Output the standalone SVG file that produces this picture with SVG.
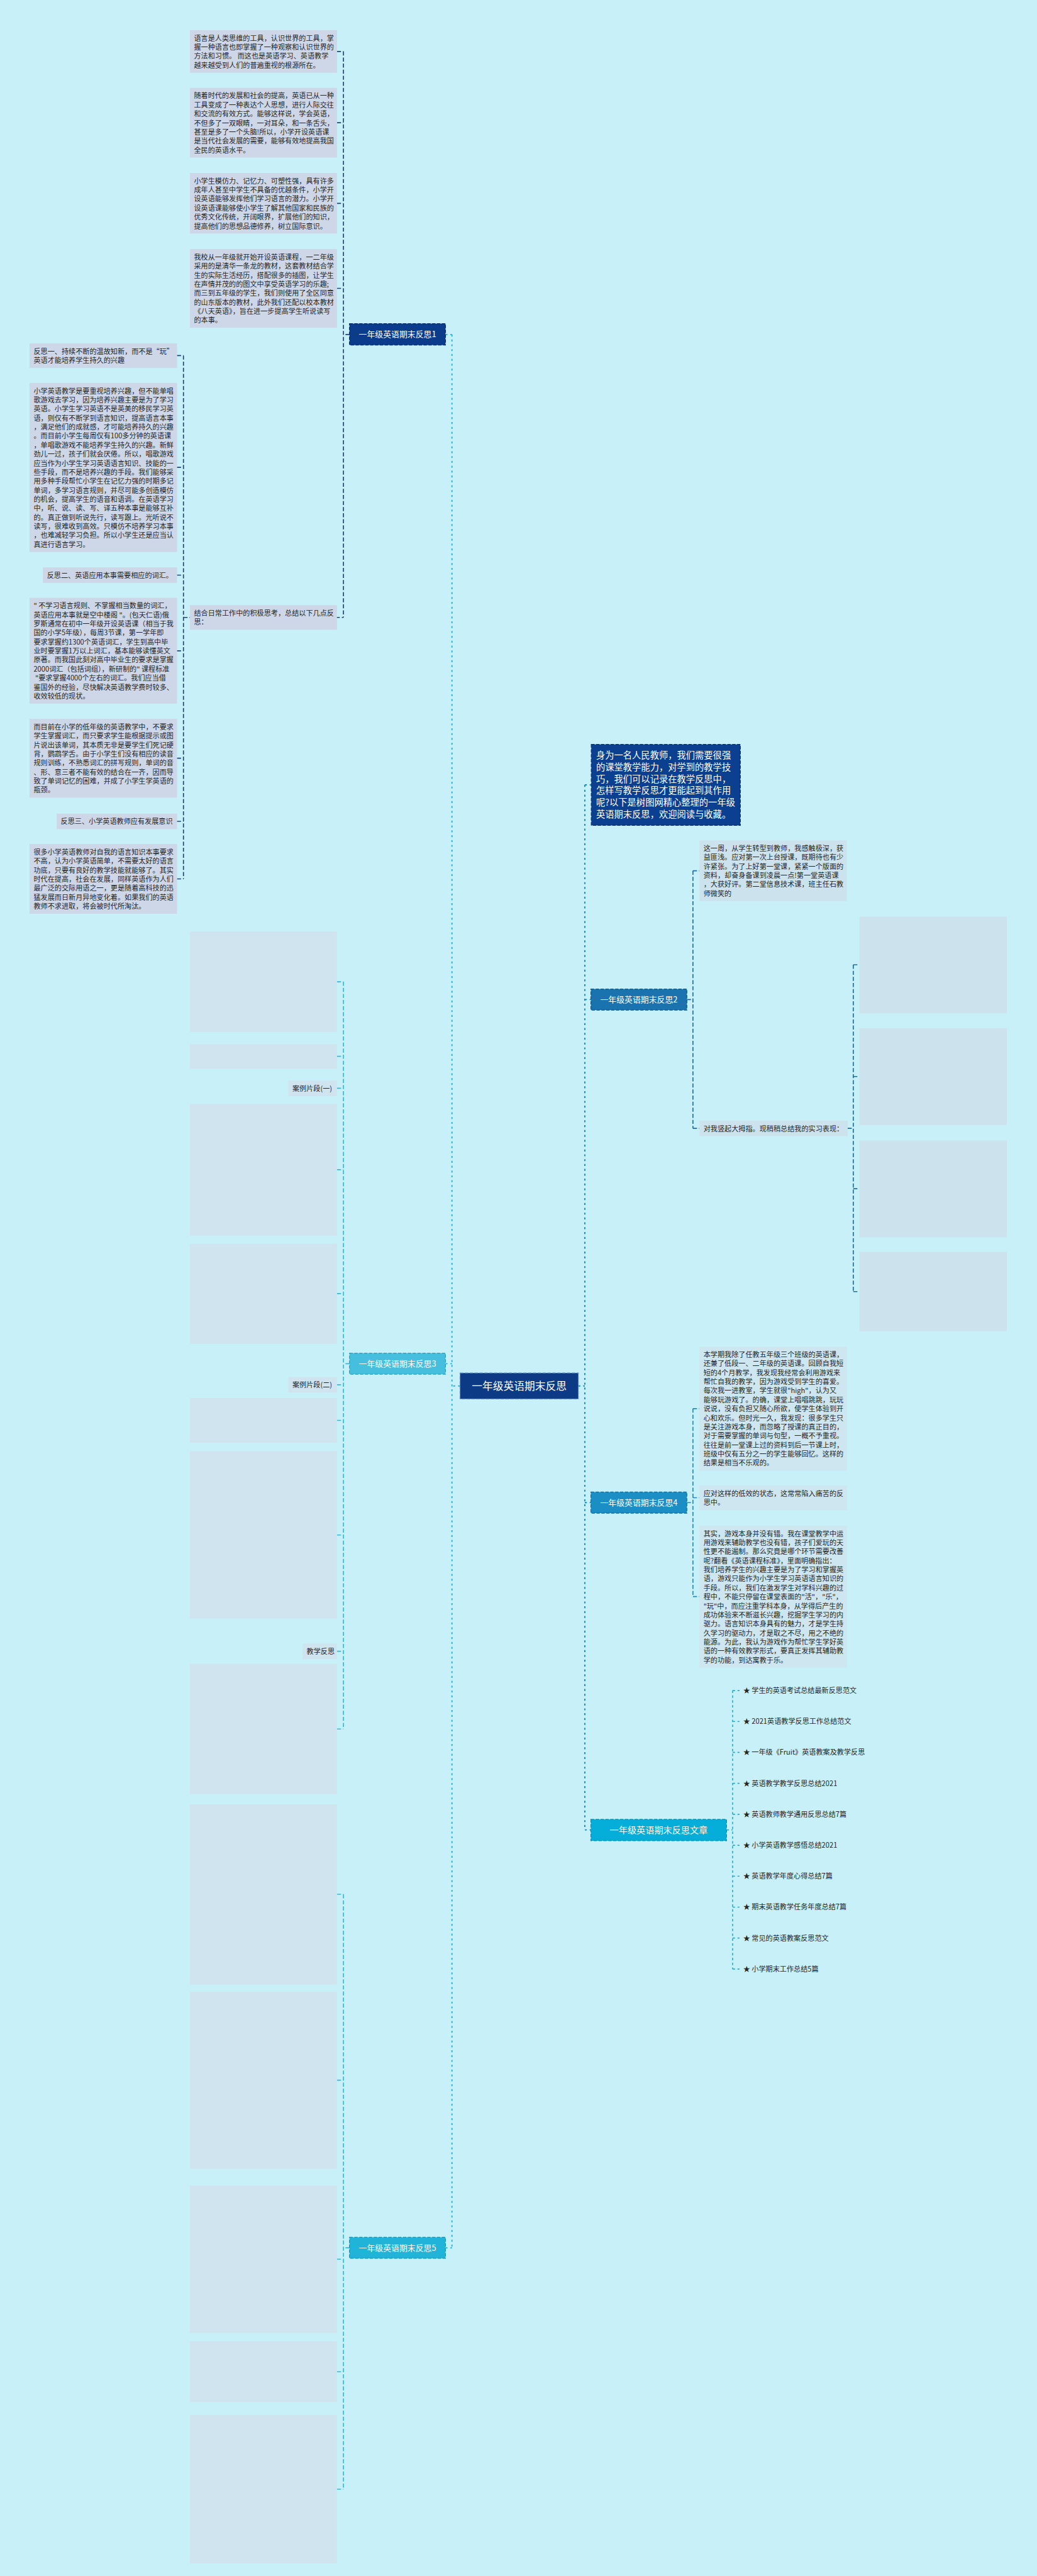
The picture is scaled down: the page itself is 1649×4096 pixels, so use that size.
<svg xmlns="http://www.w3.org/2000/svg" width="1649" height="4096" viewBox="0 0 1649 4096">
<defs>
<style>
.t{font-family:"Noto Sans CJK SC","Microsoft YaHei",sans-serif;font-size:17.3px;fill:#262626}
.tw{font-family:"Noto Sans CJK SC","Microsoft YaHei",sans-serif;fill:#ffffff}
.b1{fill:#CDD7E8}
.b2{fill:#CCE3EE}
.b3{fill:#CDE6F0}
.b5{fill:#CFE4EE}
.c1{fill:none;stroke:#22437E;stroke-width:2.6;stroke-dasharray:10 5}
.c2{fill:none;stroke:#1E6EA3;stroke-width:2.6;stroke-dasharray:10 5}
.c3{fill:none;stroke:#39B8D6;stroke-width:2.6;stroke-dasharray:10 5}
.c4{fill:none;stroke:#1B8DBF;stroke-width:2.6;stroke-dasharray:10 5}
.c5{fill:none;stroke:#2AAFCF;stroke-width:2.6;stroke-dasharray:6 6}
.tl{fill:none;stroke:#2CB5D4;stroke-width:3;stroke-dasharray:5 7}
.tr{fill:none;stroke:#168CBE;stroke-width:3;stroke-dasharray:5 7}
</style>
</defs>
<rect x="0" y="0" width="1649" height="4096" fill="#C8F0F8"/>
<g transform="scale(0.644)">
<g id="connectors">
<path class="tl" d="M1116 826 V5550 M1100 826 H1116 M1100 3367 H1116 M1100 5550 H1116 M1136 3422 H1116"/>
<path class="tr" d="M1444 1938 V4518 M1428 3422 H1444 M1444 1938 H1460 M1444 2468 H1459 M1444 3710 H1459 M1444 4518 H1459"/>
<path class="c1" d="M848 127 V1524.5 M832 127 H848 M832 303 H848 M832 502 H848 M832 712 H848 M863 826 H848 M469 1524.5 H848"/>
<path class="c1" d="M453 878 V2170 M437 878 H453 M437 1154 H453 M437 1420 H453 M437 1607 H453 M437 1872 H453 M437 2028 H453 M437 2170 H453 M453 1524.5 H469"/>
<path class="c3" d="M848 2424 V4269 M863 3367 H848 M832 2424 H848 M832 2608 H848 M832 2687 H848 M832 2888 H848 M832 3194 H848 M832 3419 H848 M832 3507 H848 M832 3790 H848 M832 4077 H848 M832 4269 H848"/>
<path class="c3" d="M848 4677 V6146 M863 5550 H848 M832 4677 H848 M832 5136 H848 M832 5578 H848 M832 5856 H848 M832 6146 H848"/>
<path class="c2" d="M1711 2150 V2786 M1696 2468 H1711 M1711 2150 H1727 M1711 2786 H1727"/>
<path class="c2" d="M2107 2382 V3189 M2093 2786 H2107 M2107 2382 H2122 M2107 2658 H2122 M2107 2935 H2122 M2107 3189 H2122"/>
<path class="c4" d="M1711 3478 V3942 M1696 3710 H1711 M1711 3478 H1727 M1711 3698 H1727 M1711 3942 H1727"/>
<path class="c5" d="M1809 4174 V4862 M1794 4518 H1809 M1809 4174 H1826 M1809 4250.4 H1826 M1809 4326.8 H1826 M1809 4403.2 H1826 M1809 4479.6 H1826 M1809 4556 H1826 M1809 4632.4 H1826 M1809 4708.8 H1826 M1809 4785.2 H1826 M1809 4861.6 H1826"/>
</g>

<g id="center">
<rect x="1136" y="3390" width="292" height="64" fill="#0C3A85" stroke="#5B86C8" stroke-width="2" stroke-dasharray="8 4"/>
<text class="tw" x="1282" y="3431" font-size="26" text-anchor="middle">一年级英语期末反思</text>
</g>

<g id="n1">
<rect x="863" y="799" width="237" height="53" fill="#0B3C8C" stroke="#062a66" stroke-width="2" stroke-dasharray="8 4"/>
<text class="tw" x="981.5" y="833" font-size="20" text-anchor="middle">一年级英语期末反思1</text>
</g>
<g id="n1a"><rect class="b1" x="469" y="74.5" width="363" height="105.2"/>
<text class="t"><tspan x="479" y="100.5">语言是人类思维的工具，认识世界的工具，掌</tspan><tspan x="479" y="122.8">握一种语言也即掌握了一种观察和认识世界的</tspan><tspan x="479" y="145.1">方法和习惯。 而这也是英语学习、英语教学</tspan><tspan x="479" y="167.4">越来越受到人们的普遍重视的根源所在。</tspan></text></g>
<g id="n1b"><rect class="b1" x="469" y="217" width="363" height="172.1"/>
<text class="t"><tspan x="479" y="243">随着时代的发展和社会的提高，英语已从一种</tspan><tspan x="479" y="265.3">工具变成了一种表达个人思想，进行人际交往</tspan><tspan x="479" y="287.6">和交流的有效方式。能够这样说，学会英语，</tspan><tspan x="479" y="309.9">不但多了一双眼睛，一对耳朵，和一条舌头，</tspan><tspan x="479" y="332.2">甚至是多了一个头脑!所以，小学开设英语课</tspan><tspan x="479" y="354.5">是当代社会发展的需要，能够有效地提高我国</tspan><tspan x="479" y="376.8">全民的英语水平。</tspan></text></g>
<g id="n1c"><rect class="b1" x="469" y="427" width="363" height="149.8"/>
<text class="t"><tspan x="479" y="453">小学生模仿力、记忆力、可塑性强，具有许多</tspan><tspan x="479" y="475.3">成年人甚至中学生不具备的优越条件，小学开</tspan><tspan x="479" y="497.6">设英语能够发挥他们学习语言的潜力。小学开</tspan><tspan x="479" y="519.9">设英语课能够使小学生了解其他国家和民族的</tspan><tspan x="479" y="542.2">优秀文化传统，开阔眼界，扩展他们的知识，</tspan><tspan x="479" y="564.5">提高他们的思想品德修养，树立国际意识。</tspan></text></g>
<g id="n1d"><rect class="b1" x="469" y="615" width="363" height="194.4"/>
<text class="t"><tspan x="479" y="641">我校从一年级就开始开设英语课程，一二年级</tspan><tspan x="479" y="663.3">采用的是清华一条龙的教材，这套教材结合学</tspan><tspan x="479" y="685.6">生的实际生活经历，搭配很多的插图，让学生</tspan><tspan x="479" y="707.9">在声情并茂的的图文中享受英语学习的乐趣;</tspan><tspan x="479" y="730.2">而三到五年级的学生，我们则使用了全区同意</tspan><tspan x="479" y="752.5">的山东版本的教材，此外我们还配以校本教材</tspan><tspan x="479" y="774.8">《八天英语》，旨在进一步提高学生听说读写</tspan><tspan x="479" y="797.1">的本事。</tspan></text></g>
<g id="n1e"><rect class="b1" x="469" y="1494.2" width="363" height="60.6"/>
<text class="t"><tspan x="479" y="1520.2">结合日常工作中的积极思考，总结以下几点反</tspan><tspan x="479" y="1542.5">思：</tspan></text></g>

<g id="f1"><rect class="b1" x="73" y="847.7" width="364" height="60.6"/>
<text class="t"><tspan x="83" y="873.7">反思一、持续不断的温故知新，而不是“玩”</tspan><tspan x="83" y="896">英语才能培养学生持久的兴趣</tspan></text></g>
<g id="f2"><rect class="b1" x="73" y="945.5" width="364" height="417.4"/>
<text class="t"><tspan x="83" y="971.5">小学英语教学是要重视培养兴趣，但不能单唱</tspan><tspan x="83" y="993.8">歌游戏去学习，因为培养兴趣主要是为了学习</tspan><tspan x="83" y="1016.1">英语。小学生学习英语不是英美的移民学习英</tspan><tspan x="83" y="1038.4">语，则仅有不断学到语言知识，提高语言本事</tspan><tspan x="83" y="1060.7">，满足他们的成就感，才可能培养持久的兴趣</tspan><tspan x="83" y="1083">。而目前小学生每周仅有100多分钟的英语课</tspan><tspan x="83" y="1105.3">，单唱歌游戏不能培养学生持久的兴趣。新鲜</tspan><tspan x="83" y="1127.6">劲儿一过，孩子们就会厌倦。所以，唱歌游戏</tspan><tspan x="83" y="1149.9">应当作为小学生学习英语语言知识、技能的一</tspan><tspan x="83" y="1172.2">些手段，而不是培养兴趣的手段。我们能够采</tspan><tspan x="83" y="1194.5">用多种手段帮忙小学生在记忆力强的时期多记</tspan><tspan x="83" y="1216.8">单词，多学习语言规则，并尽可能多创造模仿</tspan><tspan x="83" y="1239.1">的机会，提高学生的语音和语调。在英语学习</tspan><tspan x="83" y="1261.4">中，听、说、读、写、译五种本事是能够互补</tspan><tspan x="83" y="1283.7">的。真正做到听说先行，读写跟上。光听说不</tspan><tspan x="83" y="1306">读写，很难收到高效。只模仿不培养学习本事</tspan><tspan x="83" y="1328.3">，也难减轻学习负担。所以小学生还是应当认</tspan><tspan x="83" y="1350.6">真进行语言学习。</tspan></text></g>
<g id="f3"><rect class="b1" x="106" y="1400.9" width="331" height="38.3"/>
<text class="t"><tspan x="116" y="1426.9">反思二、英语应用本事需要相应的词汇。</tspan></text></g>
<g id="f4"><rect class="b1" x="73" y="1476" width="364" height="261.3"/>
<text class="t"><tspan x="83" y="1502">" 不学习语言规则、不掌握相当数量的词汇，</tspan><tspan x="83" y="1524.3">英语应用本事就是空中楼阁 "。(包天仁语)俄</tspan><tspan x="83" y="1546.6">罗斯通常在初中一年级开设英语课（相当于我</tspan><tspan x="83" y="1568.9">国的小学5年级），每周3节课，第一学年即</tspan><tspan x="83" y="1591.2">要求掌握约1300个英语词汇，学生到高中毕</tspan><tspan x="83" y="1613.5">业时要掌握1万以上词汇，基本能够读懂英文</tspan><tspan x="83" y="1635.8">原著。而我国此刻对高中毕业生的要求是掌握</tspan><tspan x="83" y="1658.1">2000词汇（包括词组），新研制的" 课程标准</tspan><tspan x="83" y="1680.4"> "要求掌握4000个左右的词汇。我们应当借</tspan><tspan x="83" y="1702.7">鉴国外的经验，尽快解决英语教学费时较多、</tspan><tspan x="83" y="1725">收效较低的现状。</tspan></text></g>
<g id="f5"><rect class="b1" x="73" y="1775" width="364" height="194.4"/>
<text class="t"><tspan x="83" y="1801">而目前在小学的低年级的英语教学中，不要求</tspan><tspan x="83" y="1823.3">学生掌握词汇，而只要求学生能根据提示或图</tspan><tspan x="83" y="1845.6">片说出该单词，其本质无非是要学生们死记硬</tspan><tspan x="83" y="1867.9">背，鹦鹉学舌。由于小学生们没有相应的读音</tspan><tspan x="83" y="1890.2">规则训练，不熟悉词汇的拼写规则，单词的音</tspan><tspan x="83" y="1912.5">、形、意三者不能有效的结合在一齐，因而导</tspan><tspan x="83" y="1934.8">致了单词记忆的困难，并成了小学生学英语的</tspan><tspan x="83" y="1957.1">瓶颈。</tspan></text></g>
<g id="f6"><rect class="b1" x="140" y="2008.9" width="297" height="38.3"/>
<text class="t"><tspan x="150" y="2034.9">反思三、小学英语教师应有发展意识</tspan></text></g>
<g id="f7"><rect class="b1" x="73" y="2084" width="364" height="172.1"/>
<text class="t"><tspan x="83" y="2110">很多小学英语教师对自我的语言知识本事要求</tspan><tspan x="83" y="2132.3">不高，认为小学英语简单，不需要太好的语言</tspan><tspan x="83" y="2154.6">功底，只要有良好的教学技能就能够了。其实</tspan><tspan x="83" y="2176.9">时代在提高，社会在发展，同样英语作为人们</tspan><tspan x="83" y="2199.2">最广泛的交际用语之一，更是随着高科技的迅</tspan><tspan x="83" y="2221.5">猛发展而日新月异地变化着。如果我们的英语</tspan><tspan x="83" y="2243.8">教师不求进取，将会被时代所淘汰。</tspan></text></g>

<g id="intro">
<rect x="1460" y="1838" width="368" height="200" fill="#0B3F8F" stroke="#0a2f6e" stroke-width="2" stroke-dasharray="8 4"/>
<text class="tw" font-size="22.2"><tspan x="1472" y="1873">身为一名人民教师，我们需要很强</tspan><tspan x="1472" y="1902">的课堂教学能力，对学到的教学技</tspan><tspan x="1472" y="1931">巧，我们可以记录在教学反思中，</tspan><tspan x="1472" y="1960">怎样写教学反思才更能起到其作用</tspan><tspan x="1472" y="1989">呢?以下是树图网精心整理的一年级</tspan><tspan x="1472" y="2018">英语期末反思，欢迎阅读与收藏。</tspan></text>
</g>

<g id="n2">
<rect x="1459" y="2442" width="237" height="52" fill="#1A73AE" stroke="#0f5a8c" stroke-width="2" stroke-dasharray="8 4"/>
<text class="tw" x="1577.5" y="2475" font-size="20" text-anchor="middle">一年级英语期末反思2</text>
</g>
<g id="n2a"><rect class="b2" x="1727" y="2075" width="364" height="149.8"/>
<text class="t"><tspan x="1737" y="2101">这一周，从学生转型到教师，我感触极深，获</tspan><tspan x="1737" y="2123.3">益匪浅。应对第一次上台授课，既期待也有少</tspan><tspan x="1737" y="2145.6">许紧张。为了上好第一堂课，紧紧一个版面的</tspan><tspan x="1737" y="2167.9">资料，却奋身备课到凌晨一点!第一堂英语课</tspan><tspan x="1737" y="2190.2">，大获好评。第二堂信息技术课，班主任石教</tspan><tspan x="1737" y="2212.5">师微笑的</tspan></text></g>
<g id="n2b"><rect class="b2" x="1727" y="2766.9" width="366" height="38.3"/>
<text class="t"><tspan x="1737" y="2792.9">对我竖起大拇指。现稍稍总结我的实习表现：</tspan></text></g>
<g id="n2c"><rect class="b2" x="2122" y="2263" width="364" height="239"/></g>
<g id="n2d"><rect class="b2" x="2122" y="2538" width="364" height="240"/></g>
<g id="n2e"><rect class="b2" x="2122" y="2816" width="364" height="239"/></g>
<g id="n2f"><rect class="b2" x="2122" y="3091" width="364" height="196"/></g>

<g id="n3">
<rect x="863" y="3341" width="237" height="52" fill="#45BFDD" stroke="#2aa3c2" stroke-width="2" stroke-dasharray="8 4"/>
<text class="tw" x="981.5" y="3374" font-size="20" text-anchor="middle">一年级英语期末反思3</text>
</g>
<g id="n3a"><rect class="b5" x="469" y="2300" width="363" height="248"/></g>
<g id="n3b"><rect class="b5" x="469" y="2578" width="363" height="61"/></g>
<g id="n3c"><rect class="b5" x="712" y="2668" width="120" height="38.3"/><text class="t" x="722" y="2694">案例片段(一)</text></g>
<g id="n3d"><rect class="b5" x="469" y="2726" width="363" height="325"/></g>
<g id="n3e"><rect class="b5" x="469" y="3071" width="363" height="247"/></g>
<g id="n3f"><rect class="b5" x="712" y="3400" width="120" height="38.3"/><text class="t" x="722" y="3426">案例片段(二)</text></g>
<g id="n3g"><rect class="b5" x="469" y="3452" width="363" height="110"/></g>
<g id="n3h"><rect class="b5" x="469" y="3583" width="363" height="413"/></g>
<g id="n3i"><rect class="b5" x="747" y="4058" width="85" height="38.3"/><text class="t" x="757" y="4084">教学反思</text></g>
<g id="n3j"><rect class="b5" x="469" y="4108" width="363" height="322"/></g>

<g id="n4">
<rect x="1459" y="3684" width="237" height="52" fill="#1B8EC6" stroke="#1274a6" stroke-width="2" stroke-dasharray="8 4"/>
<text class="tw" x="1577.5" y="3717" font-size="20" text-anchor="middle">一年级英语期末反思4</text>
</g>
<g id="n4a"><rect class="b3" x="1727" y="3325" width="364" height="305.9"/>
<text class="t"><tspan x="1737" y="3351">本学期我除了任教五年级三个班级的英语课，</tspan><tspan x="1737" y="3373.3">还兼了低段一、二年级的英语课。回顾自我短</tspan><tspan x="1737" y="3395.6">短的4个月教学，我发现我经常会利用游戏来</tspan><tspan x="1737" y="3417.9">帮忙自我的教学，因为游戏受到学生的喜爱。</tspan><tspan x="1737" y="3440.2">每次我一进教室，学生就很"high"，认为又</tspan><tspan x="1737" y="3462.5">能够玩游戏了。的确，课堂上唱唱跳跳，玩玩</tspan><tspan x="1737" y="3484.8">说说，没有负担又随心所欲，使学生体验到开</tspan><tspan x="1737" y="3507.1">心和欢乐。但时光一久，我发现：很多学生只</tspan><tspan x="1737" y="3529.4">是关注游戏本身，而忽略了授课的真正目的，</tspan><tspan x="1737" y="3551.7">对于需要掌握的单词与句型，一概不予重视。</tspan><tspan x="1737" y="3574">往往是前一堂课上过的资料到后一节课上时，</tspan><tspan x="1737" y="3596.3">班级中仅有五分之一的学生能够回忆。这样的</tspan><tspan x="1737" y="3618.6">结果是相当不乐观的。</tspan></text></g>
<g id="n4b"><rect class="b3" x="1727" y="3668" width="364" height="60.6"/>
<text class="t"><tspan x="1737" y="3694">应对这样的低效的状态，这常常陷入痛苦的反</tspan><tspan x="1737" y="3716.3">思中。</tspan></text></g>
<g id="n4c"><rect class="b3" x="1727" y="3767" width="364" height="350.5"/>
<text class="t"><tspan x="1737" y="3793">其实，游戏本身并没有错。我在课堂教学中运</tspan><tspan x="1737" y="3815.3">用游戏来辅助教学也没有错，孩子们爱玩的天</tspan><tspan x="1737" y="3837.6">性更不能遏制。那么究竟是哪个环节需要改善</tspan><tspan x="1737" y="3859.9">呢?翻看《英语课程标准》，里面明确指出：</tspan><tspan x="1737" y="3882.2">我们培养学生的兴趣主要是为了学习和掌握英</tspan><tspan x="1737" y="3904.5">语，游戏只能作为小学生学习英语语言知识的</tspan><tspan x="1737" y="3926.8">手段。所以，我们在激发学生对学科兴趣的过</tspan><tspan x="1737" y="3949.1">程中，不能只停留在课堂表面的"活"，"乐"，</tspan><tspan x="1737" y="3971.4">"玩"中，而应注重学科本身，从学得后产生的</tspan><tspan x="1737" y="3993.7">成功体验来不断滋长兴趣，挖掘学生学习的内</tspan><tspan x="1737" y="4016">驱力。语言知识本身具有的魅力，才是学生持</tspan><tspan x="1737" y="4038.3">久学习的驱动力，才是取之不尽，用之不绝的</tspan><tspan x="1737" y="4060.6">能源。为此，我认为游戏作为帮忙学生学好英</tspan><tspan x="1737" y="4082.9">语的一种有效教学形式，要真正发挥其辅助教</tspan><tspan x="1737" y="4105.2">学的功能，到达寓教于乐。</tspan></text></g>

<g id="n6">
<rect x="1459" y="4492" width="335" height="53" fill="#05AED9" stroke="#0393b8" stroke-width="2" stroke-dasharray="8 4"/>
<text class="tw" x="1626.5" y="4526" font-size="22" text-anchor="middle">一年级英语期末反思文章</text>
</g>
<g id="links" class="t">
<text x="1835" y="4180">★ 学生的英语考试总结最新反思范文</text>
<text x="1835" y="4256.4">★ 2021英语教学反思工作总结范文</text>
<text x="1835" y="4332.8">★ 一年级《Fruit》英语教案及教学反思</text>
<text x="1835" y="4409.2">★ 英语教学教学反思总结2021</text>
<text x="1835" y="4485.6">★ 英语教师教学通用反思总结7篇</text>
<text x="1835" y="4562">★ 小学英语教学感悟总结2021</text>
<text x="1835" y="4638.4">★ 英语教学年度心得总结7篇</text>
<text x="1835" y="4714.8">★ 期末英语教学任务年度总结7篇</text>
<text x="1835" y="4791.2">★ 常见的英语教案反思范文</text>
<text x="1835" y="4867.6">★ 小学期末工作总结5篇</text>
</g>

<g id="n5">
<rect x="863" y="5524" width="237" height="52" fill="#22B4D8" stroke="#1596b8" stroke-width="2" stroke-dasharray="8 4"/>
<text class="tw" x="981.5" y="5557" font-size="20" text-anchor="middle">一年级英语期末反思5</text>
</g>
<g id="n5a"><rect class="b5" x="469" y="4455" width="363" height="445"/></g>
<g id="n5b"><rect class="b5" x="469" y="4918" width="363" height="437"/></g>
<g id="n5c"><rect class="b5" x="469" y="5396" width="363" height="364"/></g>
<g id="n5d"><rect class="b5" x="469" y="5781" width="363" height="150"/></g>
<g id="n5e"><rect class="b5" x="469" y="5963" width="363" height="366"/></g>
</g>
</svg>
